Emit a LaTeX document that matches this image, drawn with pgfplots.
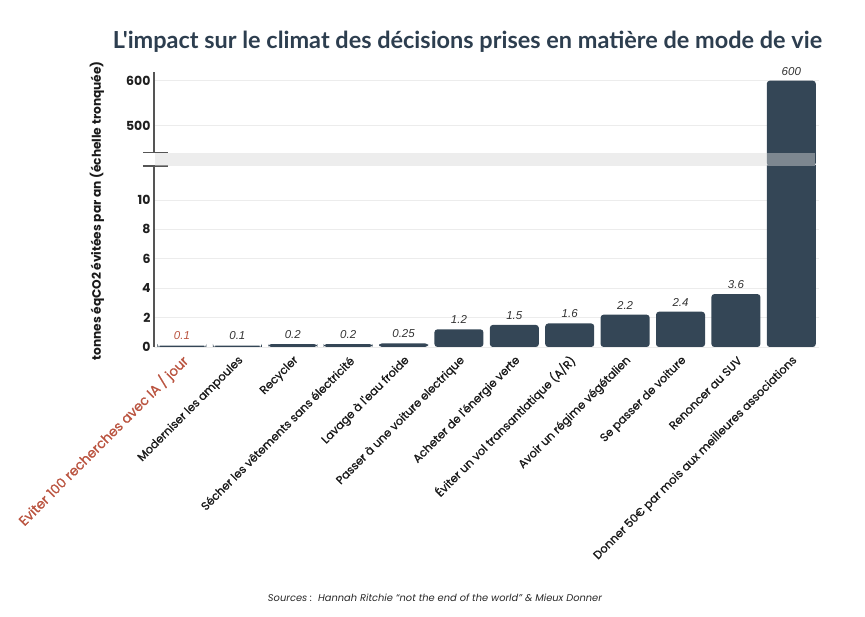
\documentclass[border=0pt]{standalone}
\usepackage{fontspec}
\usepackage{pgfplots}
\pgfplotsset{compat=1.18}
\setmainfont{Poppins}
\newfontfamily\labfont[FakeBold=1]{Poppins}
\newfontfamily\valfont{Liberation Sans}
\newfontfamily\titlefont{Lato}
\definecolor{barcol}{RGB}{52,70,86}
\definecolor{titlecol}{RGB}{45,62,79}
\definecolor{redlab}{RGB}{186,84,64}
\definecolor{gridcol}{RGB}{236,236,236}
\definecolor{axcol}{RGB}{85,85,85}
\definecolor{bandcol}{RGB}{215,215,215}

\pgfplotsset{
  brk/.style={
    scale only axis, width=665pt,
    xmin=-0.505, xmax=11.5,
    axis line style={draw=none}, tick style={draw=none},
    ymajorgrids, grid style={gridcol, line width=0.8pt},
    ybar, bar width=49pt, bar shift=0pt,
    yticklabel style={font=\fontsize{12.5}{13}\selectfont\bfseries, color=black!88},
    /pgf/number format/assume math mode=true,
    every node near coord/.append style={font=\valfont\itshape\fontsize{11.5}{12}\selectfont, color=black!80, yshift=2pt},
  },
  barst/.style={fill=barcol, draw=none, rounded corners=3pt},
}

\begin{document}
\begin{tikzpicture}
\path[use as bounding box] (0,0) rectangle (865pt,617pt);

% lower part, 0 to ~12
\begin{axis}[brk,
  at={(154pt,270pt)}, anchor=south west, height=181pt,
  ymin=0, ymax=12.31, ytick={0,2,...,10},
  xtick={0,...,11},
  xticklabels={{\textcolor{redlab}{\fontsize{13.5}{14}\selectfont Eviter 100 recherches avec IA / jour}},
    Moderniser les ampoules, Recycler, Sécher les vêtements sans électricité,
    Lavage à l'eau froide, Passer à une voiture electrique, Acheter de l'énergie verte,
    Éviter un vol transantlatique (A/R), Avoir un régime végétalien, Se passer de voiture,
    Renoncer au SUV, Donner 50€ par mois aux meilleures associations},
  x tick label style={rotate=45, anchor=east, font=\labfont\fontsize{11.4}{12}\selectfont, color=black!90, xshift=1pt, yshift=-8pt},
  after end axis/.code={
    \draw[axcol, line width=1.3pt] (rel axis cs:0,0) -- (rel axis cs:0,1);
    \draw[axcol, line width=1.1pt] ([xshift=-11pt]rel axis cs:0,1) -- ++(25pt,0);
  },
]
\addplot[barst, nodes near coords, point meta=explicit symbolic,
  every node near coord/.append style={color=redlab}]
  coordinates {(0,0.1) [0.1]};
\addplot[barst, nodes near coords, point meta=explicit symbolic]
  coordinates {(1,0.1) [0.1] (2,0.2) [0.2] (3,0.2) [0.2] (4,0.25) [0.25]
    (5,1.2) [1.2] (6,1.5) [1.5] (7,1.6) [1.6] (8,2.2) [2.2] (9,2.4) [2.4] (10,3.6) [3.6]};
\addplot[barst] coordinates {(11,600)};
\end{axis}

% upper part, 410 to 620
\begin{axis}[brk,
  at={(154pt,451pt)}, anchor=south west, height=94.3pt,
  ymin=410.4, ymax=620, ytick={500,600}, xtick=\empty,
  after end axis/.code={
    \fill[bandcol, opacity=0.45] (axis cs:-0.49,410.4) rectangle (axis cs:11.43,440);
    \draw[axcol, line width=1.3pt] (axis cs:-0.505,440) -- (rel axis cs:0,1);
    \draw[axcol, line width=1.1pt] ([xshift=-11pt]axis cs:-0.505,440) -- ++(25pt,0);
  },
]
\addplot[barst, nodes near coords, point meta=explicit symbolic]
  coordinates {(11,600) [600]};
\end{axis}

\node[rotate=90, font=\bfseries\fontsize{12.2}{13}\selectfont, color=black!90]
  at (97pt,406pt) {tonnes éqCO2 évitées par an (échelle tronquée)};
\node[color=titlecol] at (467.5pt,575pt)
  {\resizebox{709pt}{!}{\titlefont\bfseries L'impact sur le climat des décisions prises en matière de mode de vie}};
\node[color=black!85] at (435pt,19pt)
  {\resizebox{334pt}{!}{\itshape Sources :\ \ Hannah Ritchie “not the end of the world” \& Mieux Donner}};
\end{tikzpicture}
\end{document}
